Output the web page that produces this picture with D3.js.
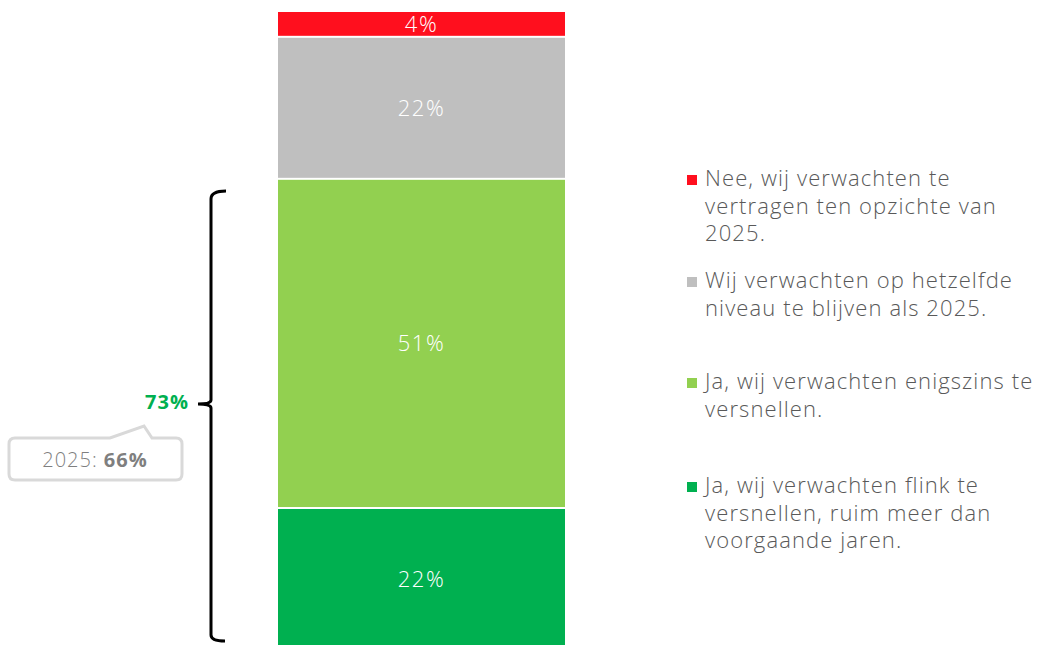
<!DOCTYPE html>
<html lang="nl">
<head>
<meta charset="utf-8">
<title>Verwachting</title>
<script src="https://d3js.org/d3.v7.min.js"></script>
<style>
  body { margin: 0; background: #fff; }
  svg { font-family: "Open Sans", "Noto Sans", sans-serif; }
</style>
</head>
<body>
<div id="chart"></div>
<script>
// segments from bottom to top
var categories = [
  "Ja, wij verwachten flink te versnellen, ruim meer dan voorgaande jaren.",
  "Ja, wij verwachten enigszins te versnellen.",
  "Wij verwachten op hetzelfde niveau te blijven als 2025.",
  "Nee, wij verwachten te vertragen ten opzichte van 2025."
];
var values = [22, 51, 22, 4];
var colors = ["#00b050", "#92d050", "#bfbfbf", "#ff0f1e"];

// legend text, split in lines as in the picture (top to bottom)
var legendLines = [
  ["Nee, wij verwachten te", "vertragen ten opzichte van", "2025."],
  ["Wij verwachten op hetzelfde", "niveau te blijven als 2025."],
  ["Ja, wij verwachten enigszins te", "versnellen."],
  ["Ja, wij verwachten flink te", "versnellen, ruim meer dan", "voorgaande jaren."]
];
var legendColors = ["#ff0f1e", "#bfbfbf", "#92d050", "#00b050"];
var legendY = [186, 288, 389, 493];

var totalYes = 73;
var prevYear = "2025";
var prevYes = 66;

var width = 1040, height = 645;

var svg = d3.select("#chart")
  .append("svg")
  .attr("width", width)
  .attr("height", height);

// stack
var stack = [];
var acc = 0;
values.forEach(function(v, i) {
  stack.push({ y0: acc, y1: acc + v, value: v, color: colors[i] });
  acc += v;
});

var y = d3.scaleLinear()
  .domain([0, d3.sum(values)])
  .range([650, 11]);

var x = d3.scaleBand()
  .domain(["2026"])
  .range([278, 565])
  .padding(0);

var bars = svg.append("g");

bars.selectAll("rect")
  .data(stack)
  .enter()
  .append("rect")
    .attr("x", x("2026"))
    .attr("width", x.bandwidth())
    .attr("y", function(d) { return y(d.y1) + 1; })
    .attr("height", function(d) { return y(d.y0) - y(d.y1) - 2; })
    .attr("fill", function(d) { return d.color; });

bars.selectAll("text")
  .data(stack)
  .enter()
  .append("text")
    .attr("x", x("2026") + x.bandwidth() / 2)
    .attr("y", function(d) {
      var mid = (y(d.y0) + y(d.y1)) / 2;
      return d.y0 === 0 ? Math.min(mid, 580) : mid;
    })
    .attr("dy", "0.36em")
    .attr("text-anchor", "middle")
    .attr("fill", "#fff")
    .style("font-size", "22px")
    .style("font-weight", 300)
    .style("letter-spacing", "1.5px")
    .text(function(d) { return d.value + "%"; });

// brace around the two green segments
var bTop = 191, bBot = 641, bMid = 404, bx = 211;
svg.append("path")
  .attr("d",
    "M" + (bx + 15) + "," + bTop +
    " Q" + bx + "," + bTop + " " + bx + "," + (bTop + 8) +
    " L" + bx + "," + (bMid - 4) +
    " Q" + bx + "," + bMid + " " + (bx - 13) + "," + bMid +
    " Q" + bx + "," + bMid + " " + bx + "," + (bMid + 4) +
    " L" + bx + "," + (bBot - 6) +
    " Q" + bx + "," + bBot + " " + (bx + 14) + "," + bBot)
  .attr("fill", "none")
  .attr("stroke", "#000")
  .attr("stroke-width", 3);

svg.append("text")
  .attr("x", 189)
  .attr("y", 409)
  .attr("text-anchor", "end")
  .attr("fill", "#00b050")
  .style("font-size", "20px")
  .style("font-weight", "bold")
  .style("letter-spacing", "1px")
  .text(totalYes + "%");

// callout with previous year
svg.append("path")
  .attr("d",
    "M15,438 L110,438 L144,426 L152,438 L176,438 Q182,438 182,444 L182,474 Q182,480 176,480" +
    " L15,480 Q9,480 9,474 L9,444 Q9,438 15,438 Z")
  .attr("fill", "#fff")
  .attr("stroke", "#d9d9d9")
  .attr("stroke-width", 3);

var callout = svg.append("text")
  .attr("x", 95)
  .attr("y", 467)
  .attr("text-anchor", "middle")
  .attr("fill", "#7f7f7f")
  .style("font-size", "20px")
  .style("letter-spacing", "1px");
callout.append("tspan").style("font-weight", 300).text(prevYear + ": ");
callout.append("tspan").style("font-weight", "bold").text(prevYes + "%");

// legend
var legend = svg.append("g");
legendLines.forEach(function(lines, i) {
  legend.append("rect")
    .attr("x", 687)
    .attr("y", legendY[i] - 11)
    .attr("width", 10)
    .attr("height", 10)
    .attr("fill", legendColors[i]);
  var t = legend.append("text")
    .attr("x", 705)
    .attr("y", legendY[i])
    .attr("fill", "#595959")
    .style("font-size", "22px")
    .style("font-weight", 300)
    .style("letter-spacing", "1.1px");
  lines.forEach(function(line, j) {
    t.append("tspan")
      .attr("x", 705)
      .attr("dy", j === 0 ? 0 : 27.5)
      .text(line);
  });
});
</script>
</body>
</html>
